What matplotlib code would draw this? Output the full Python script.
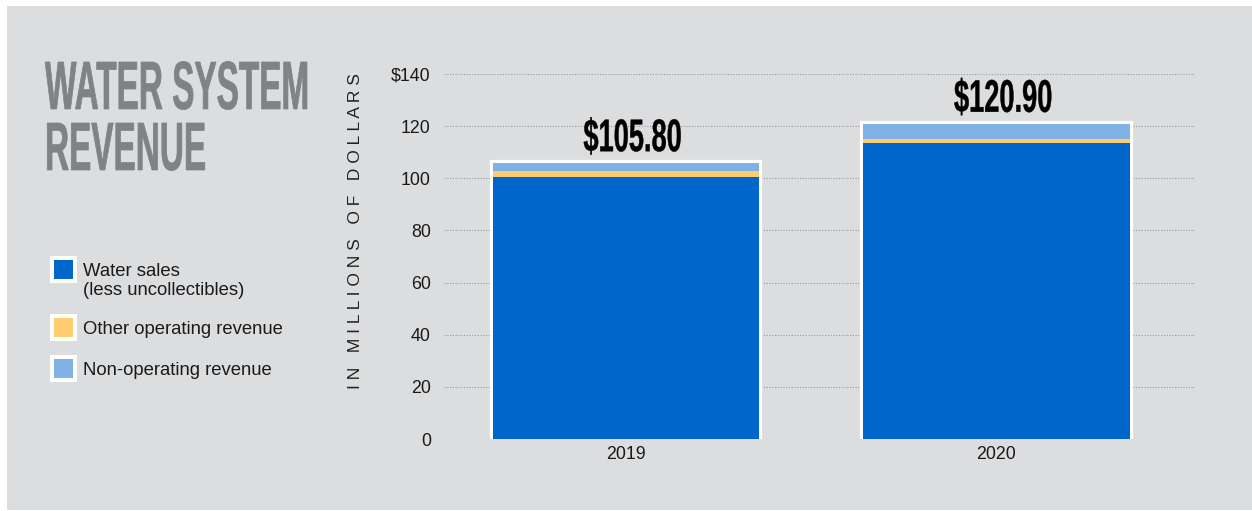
import matplotlib
matplotlib.use('Agg')
import matplotlib.pyplot as plt
import matplotlib.patheffects as pe
from matplotlib.patches import Rectangle
from matplotlib.transforms import Affine2D

plt.rcParams['font.family'] = ['Liberation Sans', 'DejaVu Sans']

# revenue, millions of dollars
years = ['2019', '2020']
water_sales = [100.6, 113.4]
other_operating = [2.3, 1.6]
non_operating = [2.9, 5.9]
totals = [w + o + n for w, o, n in zip(water_sales, other_operating, non_operating)]

series_names = ['Water sales\n(less uncollectibles)', 'Other operating revenue', 'Non-operating revenue']
series_colors = ['#0066cc', '#ffcc70', '#80b1e4']

y_ticks = [0, 20, 40, 60, 80, 100, 120, 140]
y_tick_labels = ['0', '20', '40', '60', '80', '100', '120', '$140']

W, H = 1252, 511
BG = '#dcdddf'


class Tall(pe.AbstractPathEffect):
    """stretch glyphs upward from the baseline -> condensed display type"""
    def __init__(self, sy, lw=0.0):
        super().__init__()
        self.sy = sy
        self.lw = lw

    def draw_path(self, renderer, gc, tpath, affine, rgbFace=None):
        x0, y0 = affine.transform((0, 0))
        tall = Affine2D().translate(-x0, -y0).scale(1, self.sy).translate(x0, y0)
        gc0 = renderer.new_gc()
        gc0.copy_properties(gc)
        gc0.set_linewidth(self.lw)
        gc0.set_foreground(rgbFace)
        gc0.set_joinstyle('miter')
        renderer.draw_path(gc0, tpath, affine + tall, rgbFace)
        gc0.restore()


def fx(px):
    return px / W


def fy(py):
    return 1 - py / H


fig = plt.figure(figsize=(W / 100, H / 100), dpi=100, facecolor='white')
fig.add_artist(Rectangle((fx(7), fy(510)), fx(W - 7), (510 - 6) / H,
                         transform=fig.transFigure, facecolor=BG, edgecolor='none', zorder=-10))

ax = fig.add_axes([fx(444), fy(439), (1195 - 444) / W, (439 - 74) / H])
ax.set_facecolor('none')

x = list(range(len(years)))
bw = 0.72

# white frame behind each stack
ax.bar(x, totals, width=bw, color='white', edgecolor='white', linewidth=4.5, zorder=2)
bottom = [0, 0]
for vals, col in zip([water_sales, other_operating, non_operating], series_colors):
    ax.bar(x, vals, width=bw, bottom=bottom, color=col, edgecolor='none', zorder=3)
    bottom = [b + v for b, v in zip(bottom, vals)]

for xi, t in zip(x, totals):
    ax.annotate('$%.2f' % t, (xi, t), xytext=(7, 12), textcoords='offset pixels',
                ha='center', va='baseline', fontsize=19.6, fontweight='bold', color='black',
                path_effects=[Tall(1.68, 0.3)], zorder=5)

ax.set_xlim(-0.491, 1.536)
ax.set_ylim(0, 140)
ax.set_xticks(x)
ax.set_xticklabels(years)
ax.set_yticks(y_ticks)
ax.set_yticklabels(y_tick_labels)
ax.tick_params(axis='y', length=0, pad=9.5, labelsize=12.8, labelcolor='#1a1a1a')
ax.tick_params(axis='x', length=0, pad=5, labelsize=12.8, labelcolor='#1a1a1a')
ax.yaxis.grid(True, linestyle=(0, (1, 1.5)), color='#9a9a9c', linewidth=0.8, zorder=0)
ax.set_axisbelow(True)
for s in ax.spines.values():
    s.set_visible(False)

fig.text(fx(356), fy(231.5), ' '.join('IN MILLIONS OF DOLLARS'), rotation=90,
         ha='center', va='center', fontsize=12.5, color='#222222')

# title
for line, base in zip(['WATER SYSTEM', 'REVENUE'], [109, 170]):
    fig.text(fx(45), fy(base), line, ha='left', va='baseline', fontsize=24,
             fontweight='bold', color='#818285', path_effects=[Tall(2.05, 0.5)])

# legend
for name, col, cy in zip(series_names, series_colors, [269.5, 327.5, 368.5]):
    fig.add_artist(Rectangle((fx(52), fy(cy + 11.5)), 23 / W, 23 / H, transform=fig.transFigure,
                             facecolor=col, edgecolor='white', linewidth=2.9))
    fig.text(fx(83), fy(cy - 6.8), name, ha='left', va='top', fontsize=13.3,
             color='#1a1a1a', linespacing=1.2)

fig.savefig('out.png', dpi=100, facecolor=fig.get_facecolor())
